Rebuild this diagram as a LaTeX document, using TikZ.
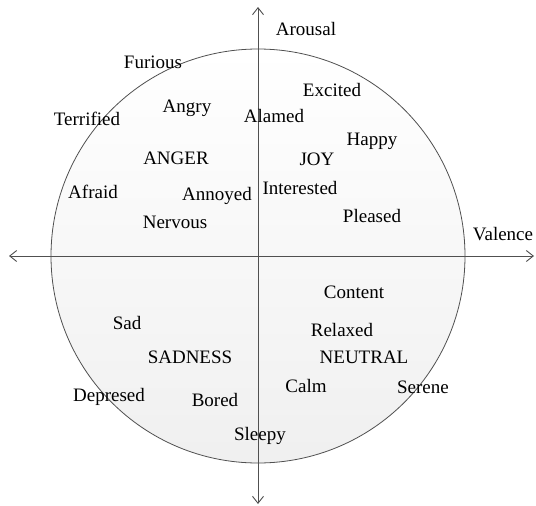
\documentclass[tikz,border=0pt]{standalone}
\usepackage{fontspec}
\setmainfont{Liberation Serif}
\usetikzlibrary{arrows.meta}
\definecolor{linegray}{HTML}{505050}
\tikzset{
  lbl/.style={anchor=base, inner sep=0pt, font=\fontsize{19}{22}\selectfont, text=black},
  axisline/.style={draw=linegray, line width=0.9pt, {Straight Barb[length=7pt,width=11pt]}-{Straight Barb[length=7pt,width=11pt]}},
  wheel/.style={draw=linegray, line width=0.8pt, top color=white, bottom color=black!6}
}
\begin{document}
\begin{tikzpicture}[x=1pt,y=-1pt]
\useasboundingbox (0,0) rectangle (536,506);
\node[wheel, circle, minimum size=414pt, inner sep=0pt] (wheel) at (258,256) {};
\coordinate (L) at (9,256);
\coordinate (R) at (534,256);
\coordinate (T) at (258,7);
\coordinate (B) at (258,504);
\draw[axisline] (L) -- (R);
\draw[axisline] (T) -- (B);
\node[lbl] (arousal) at (306,35) {Arousal};
\node[lbl] (valence) at (503,240) {Valence};
\node[lbl] (furious) at (153,68) {Furious};
\node[lbl] (angry) at (187,112) {Angry};
\node[lbl] (alamed) at (274,122) {Alamed};
\node[lbl] (terrified) at (87,125) {Terrified};
\node[lbl] (anger) at (176,164) {ANGER};
\node[lbl] (afraid) at (93,198) {Afraid};
\node[lbl] (annoyed) at (217,200) {Annoyed};
\node[lbl] (nervous) at (175,228) {Nervous};
\node[lbl] (excited) at (332,96) {Excited};
\node[lbl] (happy) at (372,145) {Happy};
\node[lbl] (joy) at (317,165) {JOY};
\node[lbl] (interested) at (300,194) {Interested};
\node[lbl] (pleased) at (372,222) {Pleased};
\node[lbl] (sad) at (127,329) {Sad};
\node[lbl] (sadness) at (190,363) {SADNESS};
\node[lbl] (depresed) at (109,401) {Depresed};
\node[lbl] (bored) at (215,406) {Bored};
\node[lbl] (sleepy) at (260,440) {Sleepy};
\node[lbl] (content) at (354,298) {Content};
\node[lbl] (relaxed) at (342,336) {Relaxed};
\node[lbl] (neutral) at (364,363) {NEUTRAL};
\node[lbl] (calm) at (306,392) {Calm};
\node[lbl] (serene) at (423,393) {Serene};
\end{tikzpicture}
\end{document}
